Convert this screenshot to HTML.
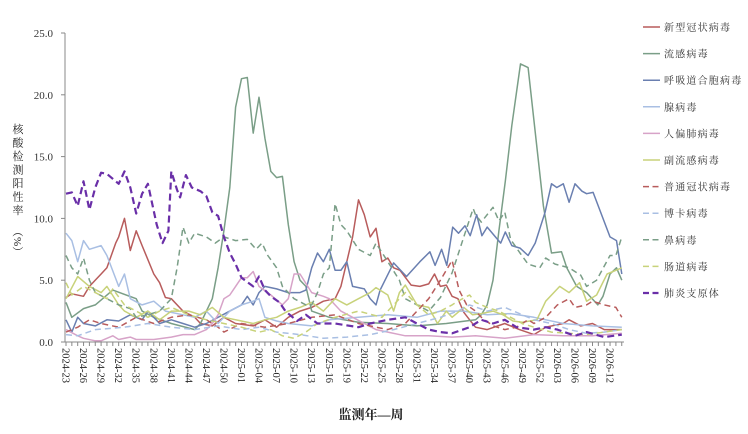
<!DOCTYPE html>
<html><head><meta charset="utf-8"><style>
body{margin:0;background:#fff;}
svg text{font-family:"Liberation Serif","Noto Serif CJK SC",serif;}
</style></head><body>
<svg id="c" width="748" height="429" xmlns="http://www.w3.org/2000/svg"></svg>
<script>
const svg=document.getElementById('c');
const X0=66,DX=5.85,Y0=342,SY=12.36;
const xi=i=>X0+DX*i, yv=v=>Y0-v*SY;
let h='';
h+=`<line x1="65" y1="33" x2="65" y2="342" stroke="#888" stroke-width="1"/>`;
h+=`<line x1="65" y1="342" x2="624" y2="342" stroke="#888" stroke-width="1"/>`;
for(let k=0;k<=5;k++){const y=yv(k*5);h+=`<line x1="61" y1="${y}" x2="65" y2="${y}" stroke="#888"/><text x="53" y="${y+4}" font-size="11" text-anchor="end" fill="#333">${(k*5).toFixed(1)}</text>`;}
for(let i=0;i<=95;i++){h+=`<line x1="${xi(i)}" y1="342" x2="${xi(i)}" y2="346" stroke="#888"/>`;}
function wk(i){let y=2024,w=23+i;if(w>52){w-=52;y++;}if(w>52){w-=52;y++;}return y+'-'+String(w).padStart(2,'0');}
for(let i=0;i<=93;i+=3){h+=`<text transform="translate(${xi(i)-3.5},348) rotate(90)" font-size="10.5" fill="#222">${wk(i)}</text>`;}
const yt='核酸检测阳性率';
for(let k=0;k<yt.length;k++)h+=`<text x="18" y="${133+k*13.5}" font-size="11" text-anchor="middle" fill="#222">${yt[k]}</text>`;
h+=`<text transform="translate(14,226) rotate(90)" font-size="11" fill="#222">（%）</text>`;
h+=`<text x="371" y="419" font-size="13" text-anchor="middle" fill="#222" font-weight="bold">监测年—周</text>`;
const S=[
['新型冠状病毒','#b85c5c',0,[[0,3.6],[1,3.9],[3,3.7],[4,4.5],[6,5.5],[7,6],[8.5,8],[9,8.5],[10,10],[11,7.4],[12,9],[13,7.8],[15,5.5],[16,4.8],[17,3.6],[18,3.5],[20,2.5],[22,2],[23,1.5],[25,1.3],[27,2],[29,1.5],[32,1.3],[34,1.8],[36,1.2],[38,2],[40,2.5],[42,2.8],[44,3.3],[46,3.5],[47,4.5],[48,6.5],[49,8.5],[50,11.5],[51,10.3],[52,8.5],[53,9.2],[54,6.5],[55,6.8],[56,6],[57.1,5.8],[59,4.6],[60.5,4.5],[62,4.7],[63,5.5],[64,4.5],[65,4.6],[66,3.7],[67,3.5],[68,2.4],[69,1.8],[70,1.2],[72,1],[75,1.5],[77.5,1],[80,0.6],[82,1.2],[85,1.5],[86,1.8],[88,1.3],[90,1.5],[92,1],[95,1]]],
['流感病毒','#7a9e87',0,[[0,3.2],[1,2],[3,2.7],[5,3],[8,4.2],[12,3.5],[13,2.5],[15,2],[18,1.5],[22,1],[23,1.5],[24,2.5],[25,3.5],[26,6],[27,9],[28,12.5],[29,19],[30,21.3],[31,21.4],[32,16.9],[33,19.8],[34,16.5],[35,13.8],[36,13.3],[37,13.4],[38,9.5],[39,6.5],[40,5],[41,4.5],[42,2.5],[45,2],[50,1.6],[55,1.5],[60,1.3],[65,1.5],[70,1.8],[71,2.2],[72,3],[73,5],[74,9],[75.1,13],[76.2,17.5],[77.7,22.5],[79,22.2],[80.2,17],[81.6,11],[83,7.2],[84.7,7.3],[85.6,6],[87.3,4.5],[89,4],[90.9,3],[91.8,3.7],[93,5.5],[94.1,6],[95,5]]],
['呼吸道合胞病毒','#6a7fb0',0,[[0,1.8],[1,0.8],[2,2],[3,1.5],[5,1.3],[7,1.8],[9,1.7],[11,2.2],[13,1.8],[14,2.5],[16,1.5],[18,1.8],[20,1.5],[22,1.2],[24,1.5],[26,2],[28,2.5],[30,3],[31,3.7],[32,3],[33,4],[34,4.5],[36,4.3],[38,4],[40,4],[41,4.2],[42,6],[43,7.2],[44,6.5],[45,7.5],[46,5.8],[47,5.8],[48,6.5],[49,4.5],[51,4.3],[52,3.5],[53,3],[53.7,4.2],[56,6.4],[58.2,5.3],[60.5,6.5],[62.2,7.3],[63.1,6.2],[64.2,7.5],[65.1,6.2],[66.1,9.3],[67.1,8.8],[68.2,9.4],[69.1,8.6],[70.2,10.3],[71.1,8.6],[72,9.3],[73.4,8.5],[74.3,8],[75.1,8.9],[76.2,7.8],[77.6,7.6],[79,7],[80.2,8],[81.9,10.5],[83,12.8],[83.9,12.5],[85,12.8],[86,11.3],[87,12.8],[88.2,12.2],[89,12],[90.1,12.1],[93,8.5],[94.1,8.2],[95,5.5]]],
['腺病毒','#a9bfe3',0,[[0,8.8],[1,8.2],[2,6.5],[3,8.2],[4,7.5],[6,7.8],[7,7],[9,4.5],[10,5.5],[11,3.5],[13,3],[15,3.3],[17,2.5],[20,2.2],[22,2],[24,2.5],[26,1.5],[28,2.5],[30,3],[32,3.3],[33,3.5],[34,2],[36,1.7],[38,1.5],[42,1.3],[45,1.8],[50,2],[55,2.2],[60,2],[64,2.5],[68,2.5],[72,2.2],[76,2.3],[80,2],[85,1.5],[90,1.3],[95,1.2]]],
['人偏肺病毒','#d7a3c8',0,[[0,1],[2,0.5],[3,0.3],[5,0.1],[6,0.1],[8,0.5],[9,0.2],[11,0.4],[12,0.2],[15,0.2],[18,0.4],[20,0.6],[22,0.6],[24,1],[25,1.5],[26,2.2],[27,3.5],[28,3.8],[29,4.5],[30,5.2],[31,5.2],[32,5.7],[33,4.5],[35,3.8],[37,3],[38,3.5],[39,5.5],[40,5.5],[42,4],[44,3.7],[45,3.5],[47,2.5],[49,2],[51,1.5],[53,1],[55,0.8],[58,0.5],[62,0.5],[66,0.4],[70,0.5],[75,0.3],[80,0.6],[85,0.5],[90,0.5],[95,0.7]]],
['副流感病毒','#c8d27a',0,[[0,3.5],[2,5.3],[4,4.5],[6,4],[7,4.5],[9,3],[10,2.5],[12,2],[14,2.5],[16,1.8],[18,2.5],[21,2.5],[23,2.2],[25,2.8],[27,2],[30,1.7],[32,1.5],[34,1.8],[36,2],[38,2.5],[40,2.8],[42,3.2],[44,2.5],[46,3.5],[48,3],[50,3.5],[52,4],[53,4.4],[55,3.8],[56,2.5],[57,4],[58,4.6],[60,3],[62,2.8],[63.5,1.5],[65,2.5],[66,2],[68,2.8],[69.5,2.2],[71,2.3],[73,2.5],[74.7,2.2],[76.4,1.7],[78,1.6],[80.5,1.8],[82,3.3],[84.4,4.5],[86,4],[87.8,4.8],[89,3.3],[90.7,3.8],[92.5,5.5],[95,6]]],
['普通冠状病毒','#b85c5c',1,[[0,0.8],[2,1.2],[4,1.8],[6,1.5],[9,1.2],[12,2],[15,1.5],[18,2],[21,2.2],[24,1.8],[26,1.2],[27,0.8],[30,1.5],[34,1.2],[38,1.5],[42,2],[46,2.2],[50,1.5],[55,1],[58,1.5],[60,2.5],[62,3.5],[64,5],[66,6.6],[67.2,4.2],[68.5,3],[70,2.5],[71,2],[73,1.3],[75,1],[77,1.2],[79,1.8],[80,1.5],[82,2],[84,3],[86,3.5],[87,2.8],[89,3],[90,3.3],[92,3],[94,2.8],[95,2]]],
['博卡病毒','#a9bfe3',1,[[0,0.6],[2,0.5],[5,1],[10,1.2],[14,1.5],[18,1.2],[22,1],[26,1.3],[30,1],[33,1.2],[36,0.8],[40,0.6],[44,0.3],[48,0.4],[52,0.6],[56,1],[60,1.5],[64,2],[67,2.5],[69,3],[72,2.5],[75,2.8],[78,2.2],[80,1.8],[83,1.5],[86,1],[89,0.7],[92,0.8],[95,1]]],
['鼻病毒','#7a9e87',1,[[0,7],[1,6],[2,5.5],[3,6.8],[4,5],[5,4],[7,3.5],[9,3],[11,2.7],[12,2],[14,2.2],[16,2.5],[18,3.5],[19,6],[20,9.3],[21,8],[22,8.8],[24,8.5],[25.5,8],[27,8.5],[29,8.2],[31,8.3],[32.5,7.5],[33.5,8],[34.5,7],[36,6],[37,4.5],[39,3.5],[41,3],[42,3],[43,4],[44,5.5],[45,6],[46,11.2],[47,9.5],[48,9],[50,7.5],[52,7],[53,8],[55,6.5],[57,5],[58,3.5],[60,3],[62,2.5],[64,3.6],[66,5.6],[68,8.5],[69.6,10.8],[70,10.3],[71,9.7],[73,10.9],[74,9.8],[75,10.5],[76,8.3],[77.6,7.2],[79,6.3],[81,6],[82,6.8],[83.6,6.3],[86,6],[88,5.4],[89,4.5],[90.7,5],[93,7],[94,7],[95,8.5]]],
['肠道病毒','#c8d27a',1,[[0,4.8],[1,3.8],[3,4.5],[5,4],[7,3.5],[8,4.3],[10,3],[12,2.5],[14,2],[16,2.5],[18,2.8],[21,2.2],[24,1.8],[27,1.5],[30,1.2],[33,0.8],[35,1],[37,0.5],[39,0.3],[41,0.8],[43,1.5],[46,2],[50,2.5],[54,2],[56,3],[58,4],[60,3],[62,2.2],[64,2.5],[66,3],[67,3.3],[69,3.8],[70,3.2],[72,2.8],[74,2.5],[76,2],[78,1.5],[80,1.2],[83,0.8],[86,0.7],[89,0.6],[92,0.8],[95,1]]],
['肺炎支原体','#6a2fa8',2,[[0,12],[1,12.1],[2,11],[3,13],[4,10.7],[5,12.5],[6,13.7],[7,13.6],[9,12.8],[10,13.8],[11,12.5],[12,10.4],[13,12],[14,12.8],[15.5,9.5],[16.5,8],[17.5,9],[18,13.8],[19,12.3],[19.5,11.7],[20.5,13.5],[21.5,12.5],[23,12.2],[24,11.8],[25,10.5],[26,10.2],[27,8.5],[28,7.2],[29,6.3],[30,5.2],[32,4.5],[33,5.3],[34,4.2],[35,3.7],[36.5,3.2],[37.5,2.5],[39.5,1.7],[41,2.2],[43,1.5],[46,1.5],[50,1.2],[52,1.5],[55,1.8],[58,2],[60,1.5],[62,1],[64,0.8],[66,0.7],[69,1.2],[71,1.8],[73,1.5],[75,1.8],[77,1.2],[80,1],[82,1.2],[84,1],[87,0.5],[89,0.8],[92,0.4],[95,0.6]]]
];
S.forEach((s,k)=>{
  const [name,col,dash,pts]=s;
  const d=pts.map((p,j)=>(j?'L':'M')+xi(p[0]).toFixed(1)+','+yv(p[1]).toFixed(1)).join('');
  const da=dash==0?'':dash==1?'stroke-dasharray="6,4"':'stroke-dasharray="7,4"';
  const w=dash==2?2.2:1.5;
  h+=`<path d="${d}" fill="none" stroke="${col}" stroke-width="${w}" ${da} stroke-linejoin="round"/>`;
  const ly=27+k*26.6;
  h+=`<line x1="643" y1="${ly}" x2="660" y2="${ly}" stroke="${col}" stroke-width="${w}" ${dash?'stroke-dasharray="6,3.5"':''}/>`;
  h+=`<text x="664" y="${ly+4}" font-size="10" letter-spacing="1.2" fill="#333">${name}</text>`;
});
svg.innerHTML=h;
</script>
</body></html>
